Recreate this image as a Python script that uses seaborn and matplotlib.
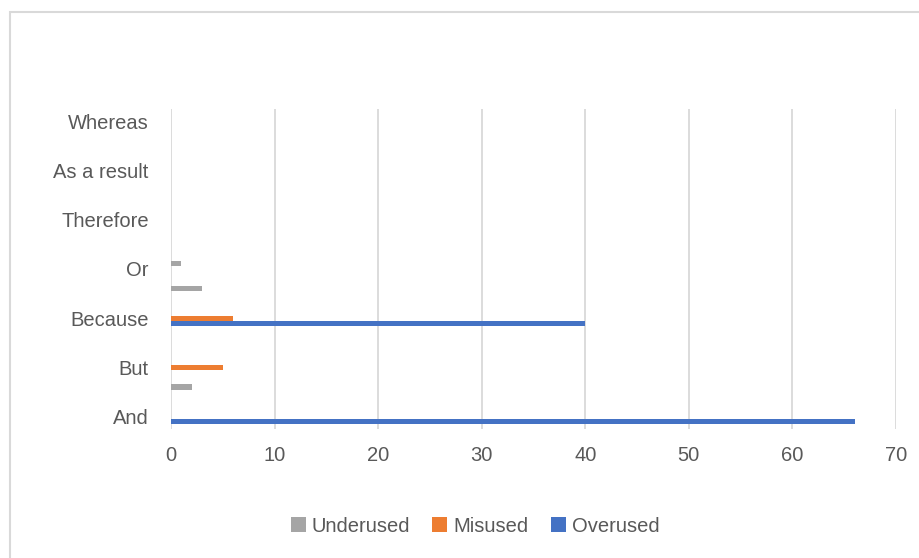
import pandas as pd
import matplotlib.pyplot as plt
import seaborn as sns
from matplotlib.patches import Rectangle

# categories from top to bottom; every other one has no visible label in the source
categories = ["Whereas", "unlabelled 6", "As a result", "unlabelled 5", "Therefore",
              "unlabelled 4", "Or", "unlabelled 3", "Because", "unlabelled 2",
              "But", "unlabelled 1", "And"]
shown_labels = ["Whereas", "", "As a result", "", "Therefore", "", "Or", "",
                "Because", "", "But", "", "And"]
underused = [0, 0, 0, 0, 0, 0, 1, 3, 0, 0, 0, 2, 0]
misused = [0, 0, 0, 0, 0, 0, 0, 0, 6, 0, 5, 0, 0]
overused = [0, 0, 0, 0, 0, 0, 0, 0, 40, 0, 0, 0, 66]
series_names = ["Underused", "Misused", "Overused"]
x_ticks = [0, 10, 20, 30, 40, 50, 60, 70]

colors = {"Underused": "#a5a5a5", "Misused": "#ed7d31", "Overused": "#4472c4"}
text_color = "#595959"
grid_color = "#d9d9d9"


def build_frame():
    rows = []
    for name, values in zip(series_names, [underused, misused, overused]):
        for cat, v in zip(categories, values):
            rows.append({"category": cat, "series": name, "value": v})
    return pd.DataFrame(rows)


def main():
    sns.set_theme(style="white")
    plt.rcParams["font.family"] = ["Liberation Sans", "DejaVu Sans"]

    fig = plt.figure(figsize=(9.2, 5.58), dpi=100)
    ax = fig.add_axes([171 / 920, 1 - 429 / 558, 725 / 920, 320 / 558])

    df = build_frame()
    sns.barplot(data=df, y="category", x="value", hue="series", order=categories,
                hue_order=series_names, palette=colors, orient="h", width=0.62,
                saturation=1, linewidth=0, ax=ax, legend=True)

    ax.set_xlim(0, 70)
    ax.set_xticks(x_ticks)
    ax.set_xticklabels([str(t) for t in x_ticks])
    ax.set_yticks(range(len(categories)))
    ax.set_yticklabels(shown_labels)
    ax.set_xlabel("")
    ax.set_ylabel("")
    ax.tick_params(axis="x", length=0, pad=12, labelsize=14.5, labelcolor=text_color)
    ax.tick_params(axis="y", length=0, pad=16, labelsize=14.5, labelcolor=text_color)
    ax.xaxis.grid(True, color=grid_color, linewidth=1.3)
    ax.set_axisbelow(True)
    for spine in ax.spines.values():
        spine.set_visible(False)

    handles, labels = ax.get_legend_handles_labels()
    ax.get_legend().remove()
    fig.legend(handles, labels, loc="center", bbox_to_anchor=(475 / 920, 1 - 526 / 558),
               ncol=3, frameon=False, fontsize=14.5, labelcolor=text_color,
               handlelength=0.75, handleheight=0.75, handletextpad=0.3, columnspacing=1.1)

    # chart area border (clipped on the right and bottom like the source)
    border = Rectangle((10 / 920, -0.1), 1.2, 1 - 12 / 558 + 0.1, transform=fig.transFigure,
                       fill=False, edgecolor=grid_color, linewidth=1.5, clip_on=False)
    fig.patches.append(border)

    fig.savefig("out.png", dpi=100, facecolor="white")
    plt.close(fig)


if __name__ == "__main__":
    main()
